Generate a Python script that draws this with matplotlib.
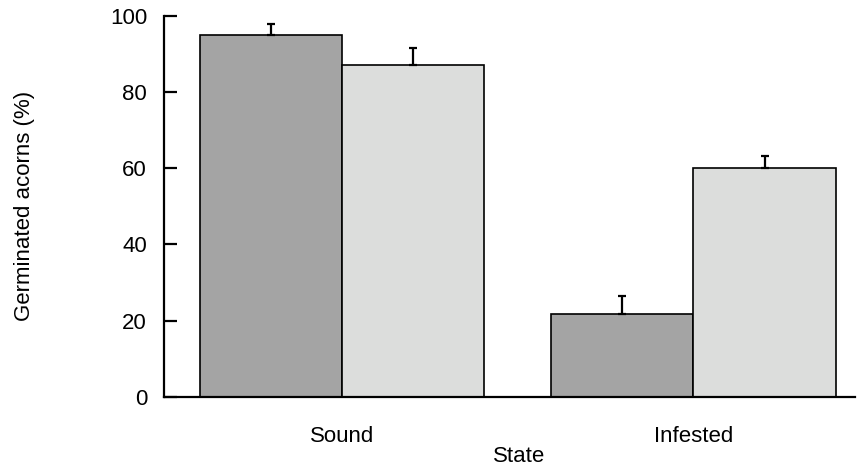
import matplotlib
matplotlib.use("Agg")
import matplotlib.pyplot as plt
import numpy as np

plt.rcParams['font.family'] = ['Liberation Sans', 'DejaVu Sans']

categories = ["Sound", "Infested"]
series_a = [95.0, 21.7]
series_b = [87.0, 60.0]
err_a = [2.7, 4.8]
err_b = [4.5, 3.2]
yticks = [0, 20, 40, 60, 80, 100]

fig = plt.figure(figsize=(8.62, 4.68), dpi=100)
ax = fig.add_axes([0.190, 0.1517, 0.802, 0.8148])

x = np.arange(len(categories))
w = 0.405
ax.bar(x - w/2, series_a, width=w, color='#a4a4a4', edgecolor='black', linewidth=1.2, zorder=2)
ax.bar(x + w/2, series_b, width=w, color='#dcdddc', edgecolor='black', linewidth=1.2, zorder=2)
ax.errorbar(x - w/2, series_a, yerr=[np.zeros(len(err_a)), err_a], fmt='none',
            ecolor='black', elinewidth=1.6, capsize=3, capthick=1.6, zorder=3)
ax.errorbar(x + w/2, series_b, yerr=[np.zeros(len(err_b)), err_b], fmt='none',
            ecolor='black', elinewidth=1.6, capsize=3, capthick=1.6, zorder=3)

ax.set_xlim(-0.507, 1.46)
ax.set_ylim(0, 100)
ax.set_yticks(yticks)
ax.set_xticks(x)
ax.set_xticklabels(categories)

for s in ['top', 'right']:
    ax.spines[s].set_visible(False)
for s in ['left', 'bottom']:
    ax.spines[s].set_linewidth(1.6)

ax.tick_params(axis='y', direction='in', length=9, width=1.6, pad=12, labelsize=16)
ax.tick_params(axis='x', length=0, pad=21, labelsize=16)

ax.set_xlabel("State", fontsize=16)
ax.xaxis.set_label_coords(0.514, -0.128)
ax.set_ylabel("Germinated acorns (%)", fontsize=16)
ax.yaxis.set_label_coords(-0.186, 0.5)

fig.savefig("out.png", dpi=100)
